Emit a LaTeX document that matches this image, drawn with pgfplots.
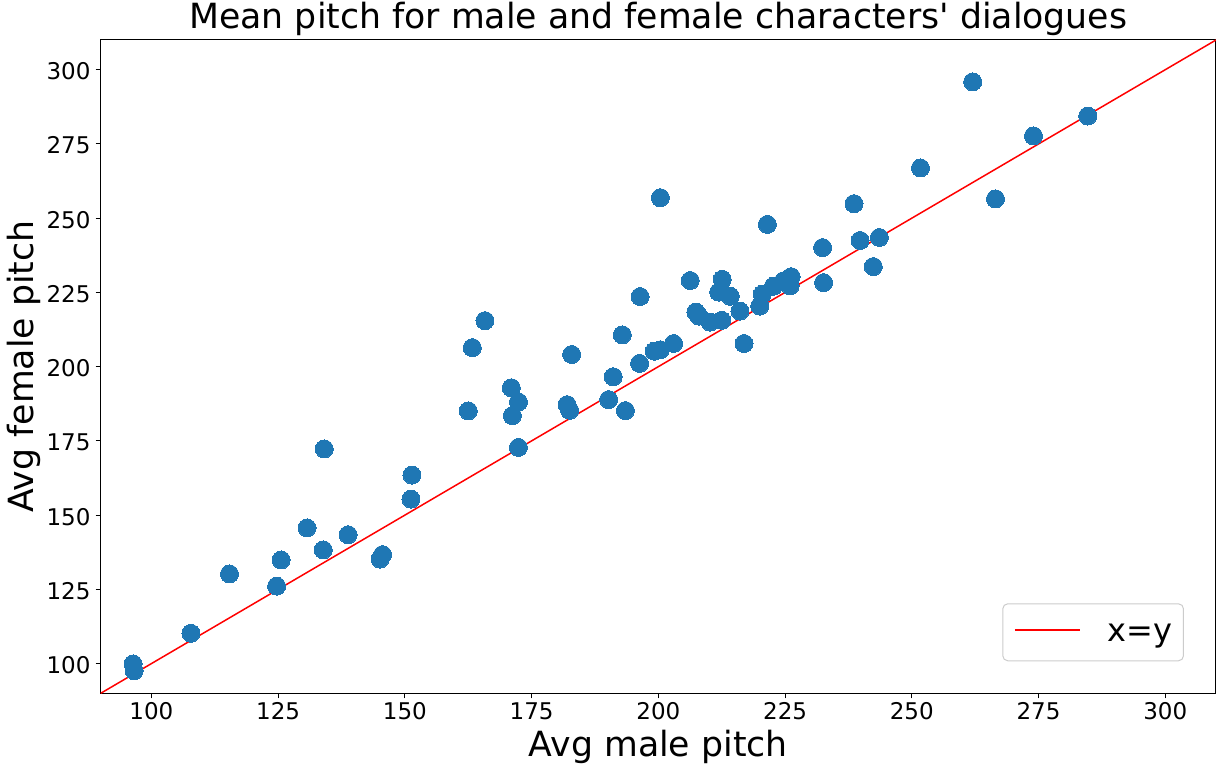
\documentclass[border=0pt]{standalone}
\usepackage{fontspec}
\setmainfont{DejaVu Sans}
\usepackage{pgfplots}
\pgfplotsset{compat=1.18}
\definecolor{mblue}{HTML}{1F77B4}
\begin{document}
\begin{tikzpicture}
\useasboundingbox (-100.7pt,-75.7pt) rectangle (1122.3pt,693.3pt);
\begin{axis}[
  at={(0pt,0pt)}, anchor=south west,
  width=1115.3pt, height=653.3pt, scale only axis,
  xmin=90, xmax=310, ymin=90, ymax=310,
  xtick={100,125,...,300}, ytick={100,125,...,300},
  xtick pos=bottom, ytick pos=left,
  tick align=outside, major tick length=5pt,
  every tick/.style={black, line width=1pt},
  axis line style={line width=1pt},
  /pgf/number format/assume math mode=true,
  tick label style={font=\fontsize{23}{27}\selectfont, inner sep=0pt},
  xticklabel style={anchor=north, yshift=-4pt},
  yticklabel style={anchor=east, xshift=-5pt, yshift=-1.5pt},
  title={Mean pitch for male and female characters\textquotesingle{} dialogues},
  title style={at={(axis description cs:0.5,1.00873)}, anchor=base, inner sep=0pt, font=\fontsize{34.7}{42}\selectfont},
  xlabel={Avg male pitch},
  xlabel style={at={(axis description cs:0.5,-0.09598)}, anchor=base, inner sep=0pt, font=\fontsize{34.7}{42}\selectfont},
  ylabel={Avg female pitch},
  ylabel style={at={(axis description cs:-0.06043,0.5)}, anchor=base, inner sep=0pt, font=\fontsize{34.7}{42}\selectfont},
  legend style={at={(axis description cs:1,0)}, anchor=south east, xshift=-32pt, yshift=32pt,
    draw=black!20, rounded corners=5pt, line width=1pt, fill=white, fill opacity=0.8, text opacity=1,
    font=\fontsize{32}{38}\selectfont, inner xsep=11pt, inner ysep=5pt, column sep=27pt,
    nodes={inner sep=0pt, text height=32.7pt, text depth=14.3pt}},
  legend image code/.code={\draw[red, line width=2pt, opacity=1] (0pt,2pt) -- (65pt,2pt);},
]
\addplot[only marks, mark=*, mark size=9pt, mark options={draw=mblue, fill=mblue, line width=0pt}, forget plot] coordinates {
(96.4,99.9) (96.6,97.6) (107.8,110.2) (115.4,130.2) (124.7,126.1) (125.6,134.9)
(130.7,145.7) (133.9,138.3) (134.1,172.3) (138.8,143.4) (145.1,135.2) (145.6,136.7)
(151.2,155.4) (151.4,163.5) (162.5,185.1) (163.3,206.4) (165.8,215.5) (171.0,192.9)
(171.2,183.5) (172.4,188.1) (172.4,172.8) (182.0,187.2) (182.5,185.3) (182.9,204.1)
(190.2,188.9) (191.1,196.6) (192.9,210.7) (193.5,185.2) (196.3,201.1) (196.4,223.6)
(199.2,205.2) (200.4,205.7) (200.4,256.9) (203.0,207.8) (206.3,229.0) (207.4,218.4)
(208.0,217.0) (210.2,215.0) (212.5,215.6) (211.9,225.1) (212.6,229.4) (214.2,223.7)
(216.1,218.7) (216.9,207.8) (220.0,220.4) (220.5,224.4) (221.5,247.9) (222.7,227.1)
(224.7,228.9) (226.2,230.3) (226.0,227.2) (232.4,240.1) (232.6,228.3) (238.6,254.9)
(239.8,242.5) (242.4,233.7) (243.6,243.5) (251.7,266.9) (262.0,295.9) (266.5,256.5)
(274.0,277.7) (284.7,284.4)
};
\addplot[red, line width=1.5pt] coordinates {(90,90) (310,310)};
\addlegendentry{x=y}
\end{axis}
\end{tikzpicture}
\end{document}
